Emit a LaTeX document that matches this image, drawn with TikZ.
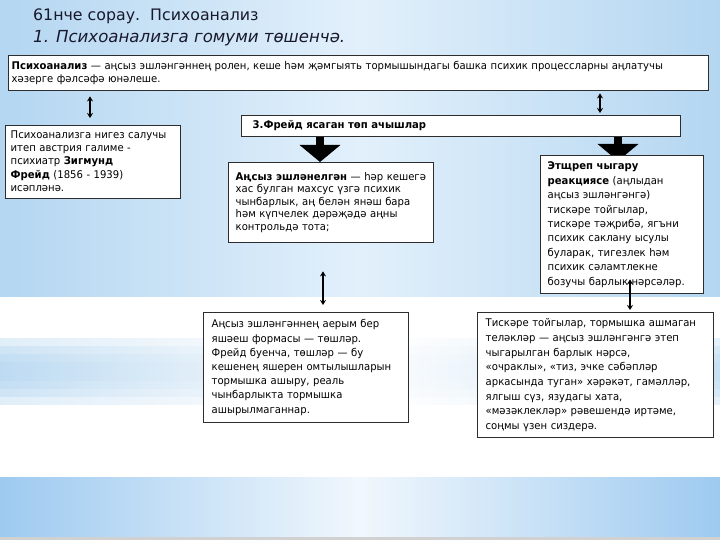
\documentclass[tikz,border=0pt]{standalone}
\usepackage{fontspec}
\setmainfont{DejaVu Sans}
\newfontfamily\boxfont[FakeStretch=0.95]{DejaVu Sans}
\usetikzlibrary{arrows.meta}
\pgfdeclarelayer{bg}
\pgfdeclarelayer{arr}
\pgfsetlayers{bg,arr,main}
\definecolor{skyA}{RGB}{180,214,241}
\definecolor{skyB}{RGB}{226,240,251}
\definecolor{skyC}{RGB}{158,202,240}
\definecolor{boxline}{RGB}{45,45,45}
\definecolor{titleink}{RGB}{25,25,45}
\newcommand{\lines}[1]{\begin{tabular}{@{}l@{}}#1\end{tabular}}
\begin{document}
\begin{tikzpicture}[x=1pt,y=-1pt,
  box/.style={draw=boxline, line width=1.4pt, fill=white, anchor=north west, align=left, inner ysep=0pt},
  dbl/.style={{Stealth[length=5pt,width=6pt]}-{Stealth[length=5pt,width=6pt]}, line width=1.8pt},
  blockarrow/.style={line width=8pt, -{Triangle[width=40pt,length=17pt]}},
  titletext/.style={anchor=base west, inner sep=0pt, text=titleink},
  band/.style={left color=skyA, right color=skyA!85, middle color=white, opacity=0.4}
]
\useasboundingbox (0,0) rectangle (720,540);
% background
\begin{pgfonlayer}{bg}
\fill[white] (0,0) rectangle (720,540);
\shade[left color=skyA, right color=skyA, middle color=skyB] (0,0) rectangle (720,296);
\shade[band] (0,338) rectangle (720,404);
\shade[band] (0,346) rectangle (720,396);
\shade[band] (0,354) rectangle (720,388);
\shade[band] (0,362) rectangle (720,380);
\shade[left color=skyC, right color=skyC, middle color=white!85!skyC] (0,477) rectangle (720,537);
\fill[black!18] (0,537) rectangle (720,540);
\end{pgfonlayer}

% title
\node[titletext, font=\fontsize{15.8}{18}\selectfont] (t1) at (33,21) {61нче сорау.\ \ Психоанализ};
\node[titletext, font=\fontsize{16.6}{18}\selectfont] (t2) at (33,43) {\itshape 1. Психоанализга гомуми төшенчә.};

% boxes
\node[box, inner xsep=3pt, text width=694pt, minimum height=35pt, font=\boxfont\fontsize{10.6}{13}\selectfont] (top) at (8,55)
  {\lines{\textbf{Психоанализ} — аңсыз эшләнгәннең ролен, кеше һәм җәмгыять тормышындагы башка психик процессларны аңлатучы\\ хәзерге фәлсәфә юнәлеше.}};
\node[box, inner xsep=5pt, text width=165pt, minimum height=73pt, font=\boxfont\fontsize{10.6}{13.2}\selectfont] (left) at (5,125)
  {\lines{Психоанализга нигез салучы\\ итеп австрия галиме -\\ психиатр \textbf{Зигмунд}\\ \textbf{Фрейд} (1856 - 1939)\\ исәпләнә.}};
\node[box, inner xsep=11pt, text width=417pt, minimum height=21pt, font=\boxfont\fontsize{10.6}{13}\selectfont] (disc) at (241,115)
  {\lines{\textbf{3.Фрейд ясаган төп ачышлар}}};
\node[box, inner xsep=7pt, text width=191pt, minimum height=80pt, font=\boxfont\fontsize{10.6}{12.6}\selectfont] (unc) at (228,162)
  {\lines{\textbf{Аңсыз эшләнелгән} — һәр кешегә\\ хас булган махсус үзгә психик\\ чынбарлык, аң белән янәш бара\\ һәм күпчелек дәрәҗәдә аңны\\ контрольдә тота;}};
\node[box, inner xsep=7pt, text width=149pt, minimum height=138pt, font=\boxfont\fontsize{10.6}{14.4}\selectfont] (repr) at (540,155)
  {\lines{\textbf{Этщреп чыгару}\\ \textbf{реакциясе} (аңлыдан\\ аңсыз эшләнгәнгә)\\ тискәре тойгылар,\\ тискәре тәҗрибә, ягъни\\ психик саклану ысулы\\ буларак, тигезлек һәм\\ психик сәламтлекне\\ бозучы барлык нәрсәләр.}};
\node[box, inner xsep=8pt, text width=189pt, minimum height=110pt, font=\boxfont\fontsize{10.6}{14.2}\selectfont] (dream) at (203,312)
  {\lines{Аңсыз эшләнгәннең аерым бер\\ яшәеш формасы — төшләр.\\ Фрейд буенча, төшләр — бу\\ кешенең яшерен омтылышларын\\ тормышка ашыру, реаль\\ чынбарлыкта тормышка\\ ашырылмаганнар.}};
\node[box, inner xsep=8pt, text width=220pt, minimum height=125pt, font=\boxfont\fontsize{10.6}{14.7}\selectfont] (slip) at (477,312)
  {\lines{Тискәре тойгылар, тормышка ашмаган\\ теләкләр — аңсыз эшләнгәнгә этеп\\ чыгарылган барлык нәрсә,\\ «очраклы», «тиз, эчке сәбәпләр\\ аркасында туган» хәрәкәт, гамәлләр,\\ ялгыш сүз, язудагы хата,\\ «мәзәклекләр» рәвешендә иртәме,\\ соңмы үзен сиздерә.}};

% connector x positions
\coordinate (xa) at (90,0);
\coordinate (xb) at (600,0);
\coordinate (xc) at (323,0);
\coordinate (xd) at (630,0);
\coordinate (xe) at (320,0);
\coordinate (xf) at (618,0);

\draw[dbl, shorten <=5pt, shorten >=7pt] (xa |- top.south) -- (xa |- left.north);
\draw[dbl, shorten <=2pt, shorten >=2pt] (xb |- top.south) -- (xb |- disc.north);
\draw[dbl, shorten <=28pt, shorten >=7pt] (xc |- unc.south) -- (xc |- dream.north);
\draw[dbl, shorten <=-15pt, shorten >=2pt] (xd |- repr.south) -- (xd |- slip.north);

\begin{pgfonlayer}{arr}
\draw[blockarrow] (xe |- disc.south) -- (xe |- unc.north);
\draw[blockarrow, shorten >=-6pt] (xf |- disc.south) -- (xf |- repr.north);
\end{pgfonlayer}
\end{tikzpicture}
\end{document}
